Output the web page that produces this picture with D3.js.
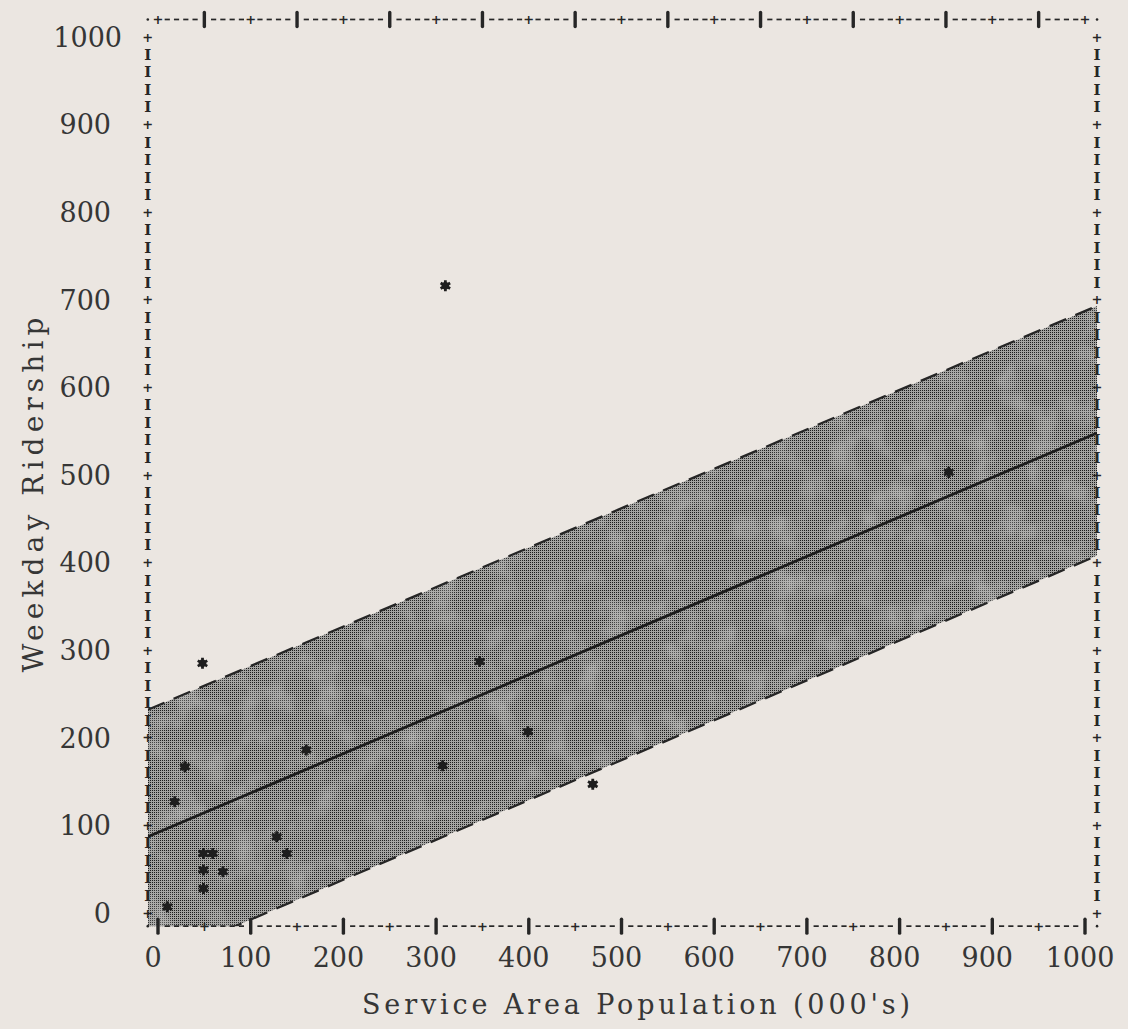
<!DOCTYPE html>
<html>
<head>
<meta charset="utf-8">
<script src="https://cdn.jsdelivr.net/npm/d3@7"></script>
<style>
  html, body { margin: 0; padding: 0; background: #ebe6e1; }
  svg { display: block; }
</style>
</head>
<body>
<svg id="chart" width="1128" height="1029"></svg>
<script>
// Axis ticks (thousands of residents / weekday riders)
const popTicks = [0, 100, 200, 300, 400, 500, 600, 700, 800, 900, 1000];
const riderTicks = [0, 100, 200, 300, 400, 500, 600, 700, 800, 900, 1000];

// Printer frame extent in data units
const frameX = [-11, 1013];
const frameY = [-15, 1020];

// Fitted line and its prediction band, evaluated at the frame edges
const fitPopulation = [-11, 1013];
const fitRidership = [87, 548];
const upperRidership = [232, 693];
const lowerRidership = [-58, 408];

// Observed systems
const pointPopulation = [48, 310, 160, 29, 18, 128, 139, 49, 59, 49, 70, 49, 10, 347, 399, 307, 469, 853];
const pointRidership  = [285, 716, 186, 167, 127, 87, 68, 68, 68, 49, 47, 28, 7, 287, 207, 168, 147, 503];

const W = 1128, H = 1029;
const ink = "#262626";
const font = "'DejaVu Serif', 'Liberation Serif', serif";

const x = d3.scaleLinear().domain([0, 1000]).range([158, 1085]);
const y = d3.scaleLinear().domain([0, 1000]).range([913, 37]);

const svg = d3.select("#chart");
svg.append("rect").attr("width", W).attr("height", H).attr("fill", "#ebe6e1");

const defs = svg.append("defs");

// halftone screen used for the band
const screen = defs.append("pattern")
  .attr("id", "screen").attr("width", 2).attr("height", 2)
  .attr("patternUnits", "userSpaceOnUse");
screen.append("rect").attr("width", 2).attr("height", 2).attr("fill", "#a2a2a0");
screen.append("rect").attr("width", 1).attr("height", 1).attr("fill", "#1a1a1a");

// soft mottling of the printed screen
const mottle = defs.append("filter").attr("id", "mottle")
  .attr("x", 0).attr("y", 0).attr("width", 1).attr("height", 1);
mottle.append("feTurbulence").attr("type", "fractalNoise")
  .attr("baseFrequency", 0.035).attr("numOctaves", 3).attr("seed", 7);
mottle.append("feColorMatrix").attr("type", "matrix")
  .attr("values", "0 0 0 0 0.62  0 0 0 0 0.62  0 0 0 0 0.61  1.6 0 0 0 -0.75");

const fx0 = x(frameX[0]), fx1 = x(frameX[1]);
const fy0 = y(frameY[1]), fy1 = y(frameY[0]);

defs.append("clipPath").attr("id", "plotClip").append("rect")
  .attr("x", fx0).attr("y", fy0).attr("width", fx1 - fx0).attr("height", fy1 - fy0);

const plot = svg.append("g").attr("clip-path", "url(#plotClip)");

// prediction band
const bandData = fitPopulation.map((p, i) => ({ p, hi: upperRidership[i], lo: lowerRidership[i], fit: fitRidership[i] }));
const bandArea = d3.area().x(d => x(d.p)).y0(d => y(d.lo)).y1(d => y(d.hi));
plot.append("path").datum(bandData).attr("fill", "url(#screen)").attr("d", bandArea);

defs.append("clipPath").attr("id", "bandClip").append("path").datum(bandData).attr("d", bandArea);
plot.append("rect")
  .attr("x", fx0).attr("y", fy0).attr("width", fx1 - fx0).attr("height", fy1 - fy0)
  .attr("clip-path", "url(#bandClip)")
  .attr("filter", "url(#mottle)")
  .attr("opacity", 0.65);

// dashed band limits
const edge = key => d3.line().x(d => x(d.p)).y(d => y(d[key]));
["hi", "lo"].forEach(k => {
  plot.append("path")
    .datum(bandData)
    .attr("fill", "none").attr("stroke", ink).attr("stroke-width", 2.3)
    .attr("stroke-dasharray", "18,10")
    .attr("d", edge(k));
});

// regression line
plot.append("path")
  .datum(bandData)
  .attr("fill", "none").attr("stroke", "#1c1c1c").attr("stroke-width", 2.8)
  .attr("d", edge("fit"));

// observations
const points = pointPopulation.map((p, i) => ({ p, r: pointRidership[i] }));
const star = d3.symbol().type(d3.symbolAsterisk).size(85);
const pts = plot.append("g").selectAll("g").data(points).join("g")
  .attr("transform", d => `translate(${x(d.p)},${y(d.r)})`);
pts.append("path").attr("d", star).attr("fill", "none").attr("stroke", "#1e1e1e").attr("stroke-width", 2.8);
pts.append("circle").attr("r", 3.8).attr("fill", "#1e1e1e");

// ---- line-printer frame ----
const frame = svg.append("g").attr("fill", ink).attr("stroke", ink);

function glyph(px, py, ch, size) {
  frame.append("text").attr("x", px).attr("y", py).attr("dy", "0.36em")
    .attr("text-anchor", "middle").attr("stroke", "none")
    .style("font", `bold ${size}px ${font}`).text(ch);
}

function horizontalBorder(yy, plusEvery100) {
  d3.range(0, 1001, 10).forEach(v => {
    const px = x(v);
    const onHundred = v % 100 === 0;
    if (v % 50 === 0) {
      const plus = plusEvery100 ? onHundred : !onHundred;
      if (plus) {
        glyph(px, yy, "+", 13);
      } else {
        frame.append("line").attr("x1", px).attr("x2", px)
          .attr("y1", yy - 7).attr("y2", yy + 7)
          .attr("stroke-width", 3.4).attr("stroke-linecap", "round");
      }
    } else {
      frame.append("line").attr("x1", px - 2.6).attr("x2", px + 2.6)
        .attr("y1", yy).attr("y2", yy).attr("stroke-width", 1.7);
    }
  });
}
horizontalBorder(fy0, true);
horizontalBorder(fy1, false);

function verticalBorder(xx) {
  d3.range(0, 1001, 20).forEach(v => {
    if (v % 100 === 0) glyph(xx, y(v), "+", 13);
    else glyph(xx, y(v), "I", 15);
  });
}
verticalBorder(fx0);
verticalBorder(fx1);

[[fx0, fy0], [fx1, fy0], [fx0, fy1], [fx1, fy1]].forEach(([cx, cy]) => {
  frame.append("circle").attr("cx", cx).attr("cy", cy).attr("r", 1.3).attr("stroke", "none");
});

// ---- tick labels ----
const labels = svg.append("g").attr("fill", "#363636").style("font-family", font).style("font-size", "27px");

labels.selectAll(".ylab").data(riderTicks).join("text")
  .attr("class", "ylab")
  .attr("x", d => d >= 1000 ? 122 : 111)
  .attr("y", d => y(d)).attr("dy", "0.36em")
  .attr("text-anchor", "end")
  .text(d => d);

labels.selectAll(".xlab").data(popTicks).join("text")
  .attr("class", "xlab")
  .attr("x", d => x(d) - 5)
  .attr("y", 967)
  .attr("text-anchor", "middle")
  .text(d => d);

// ---- axis titles ----
svg.append("text")
  .attr("x", 636).attr("y", 1014)
  .attr("text-anchor", "middle")
  .attr("textLength", 548).attr("lengthAdjust", "spacing")
  .attr("fill", "#363636")
  .style("font-family", font).style("font-size", "27px")
  .text("Service Area Population (000's)");

svg.append("text")
  .attr("transform", "translate(43,495) rotate(-90)")
  .attr("text-anchor", "middle")
  .attr("textLength", 355).attr("lengthAdjust", "spacing")
  .attr("fill", "#363636")
  .style("font-family", font).style("font-size", "28px")
  .text("Weekday Ridership");
</script>
</body>
</html>
